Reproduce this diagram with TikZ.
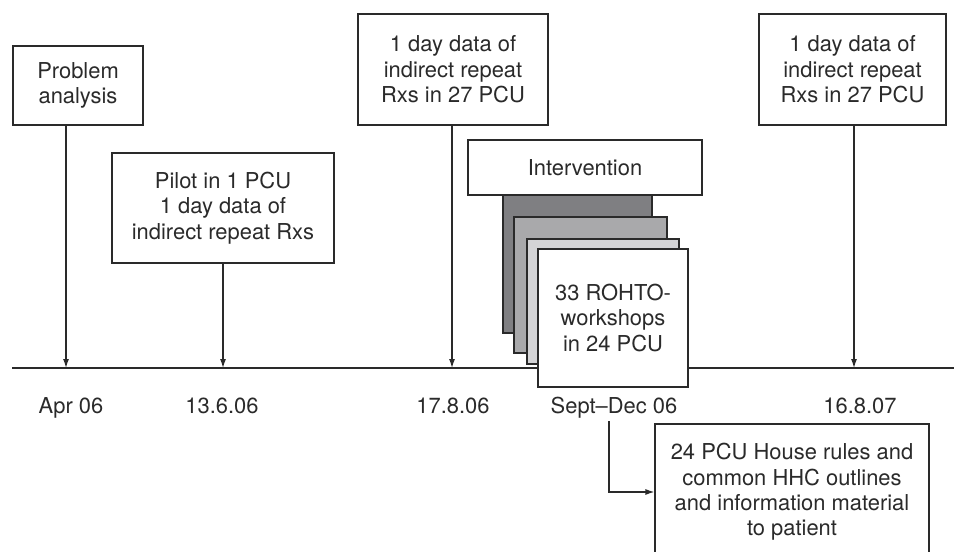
\documentclass[tikz,border=0pt]{standalone}
\usepackage{fontspec}
\setmainfont{TeX Gyre Heros}
\usetikzlibrary{arrows.meta}
\definecolor{ink}{HTML}{2A2A2A}
\definecolor{gdark}{HTML}{7F7F82}
\definecolor{gmed}{HTML}{A9A9AB}
\definecolor{glight}{HTML}{D4D4D6}
\begin{document}
\begin{tikzpicture}[x=1bp,y=-1bp,
  every node/.style={font=\fontsize{22}{25.5}\selectfont, text=ink},
  box/.style={draw=ink, line width=1.2bp, fill=white, align=center, inner sep=0pt},
  layer/.style={draw=ink, line width=1.2bp},
  conn/.style={draw=ink, line width=1.2bp, -{Latex[length=9bp,width=6bp]}},
  datelabel/.style={anchor=base}]
\clip (0,0) rectangle (954,552);
\fill[white] (0,0) rectangle (954,552);
% timeline
\coordinate (tlL) at (12,368);
\coordinate (tlR) at (954,368);
\draw[ink, line width=1.2bp] (tlL) -- (tlR);
% timeline points
\coordinate (t1) at (66,368);
\coordinate (t2) at (223,368);
\coordinate (t3) at (452,368);
\coordinate (t4) at (854,368);
% boxes
\node[box, minimum width=130bp, minimum height=79bp] (pa) at (78,85.5) {Problem\\analysis};
\node[box, minimum width=222bp, minimum height=110bp] (pilot) at (223,208) {Pilot in 1 PCU\\1 day data of\\indirect repeat Rxs};
\node[box, minimum width=190bp, minimum height=111bp] (d1) at (453,69.5) {1 day data of\\indirect repeat\\Rxs in 27 PCU};
\node[box, minimum width=187bp, minimum height=111bp] (d2) at (852.5,69.5) {1 day data of\\indirect repeat\\Rxs in 27 PCU};
% stacked workshop layers
\filldraw[layer, fill=gdark] (503,185) rectangle (652,333);
\filldraw[layer, fill=gmed] (514,217) rectangle (667,353);
\filldraw[layer, fill=glight] (527,239) rectangle (679,364);
\node[box, minimum width=150bp, minimum height=138bp] (ws) at (613,318) {33 ROHTO-\\workshops\\in 24 PCU};
\node[box, minimum width=234bp, minimum height=55bp] (iv) at (585,167.5) {Intervention};
% arrows to timeline
\draw[conn] (t1 |- pa.south) -- (t1);
\draw[conn] (t2 |- pilot.south) -- (t2);
\draw[conn] (t3 |- d1.south) -- (t3);
\draw[conn] (t4 |- d2.south) -- (t4);
% date labels
\node[datelabel] (l1) at (71,413) {Apr 06};
\node[datelabel] (l2) at (222,413) {13.6.06};
\node[datelabel] (l3) at (453,413) {17.8.06};
\node[datelabel] (l4) at (614,413) {Sept--Dec 06};
\node[datelabel] (l5) at (860,413) {16.8.07};
% bottom box
\node[box, minimum width=274bp, minimum height=136bp] (hhc) at (792,492) {24 PCU House rules and\\common HHC outlines\\and information material\\to patient};
\coordinate (e0) at (609,421);
\draw[conn] (e0) |- (hhc.west);
\end{tikzpicture}
\end{document}
